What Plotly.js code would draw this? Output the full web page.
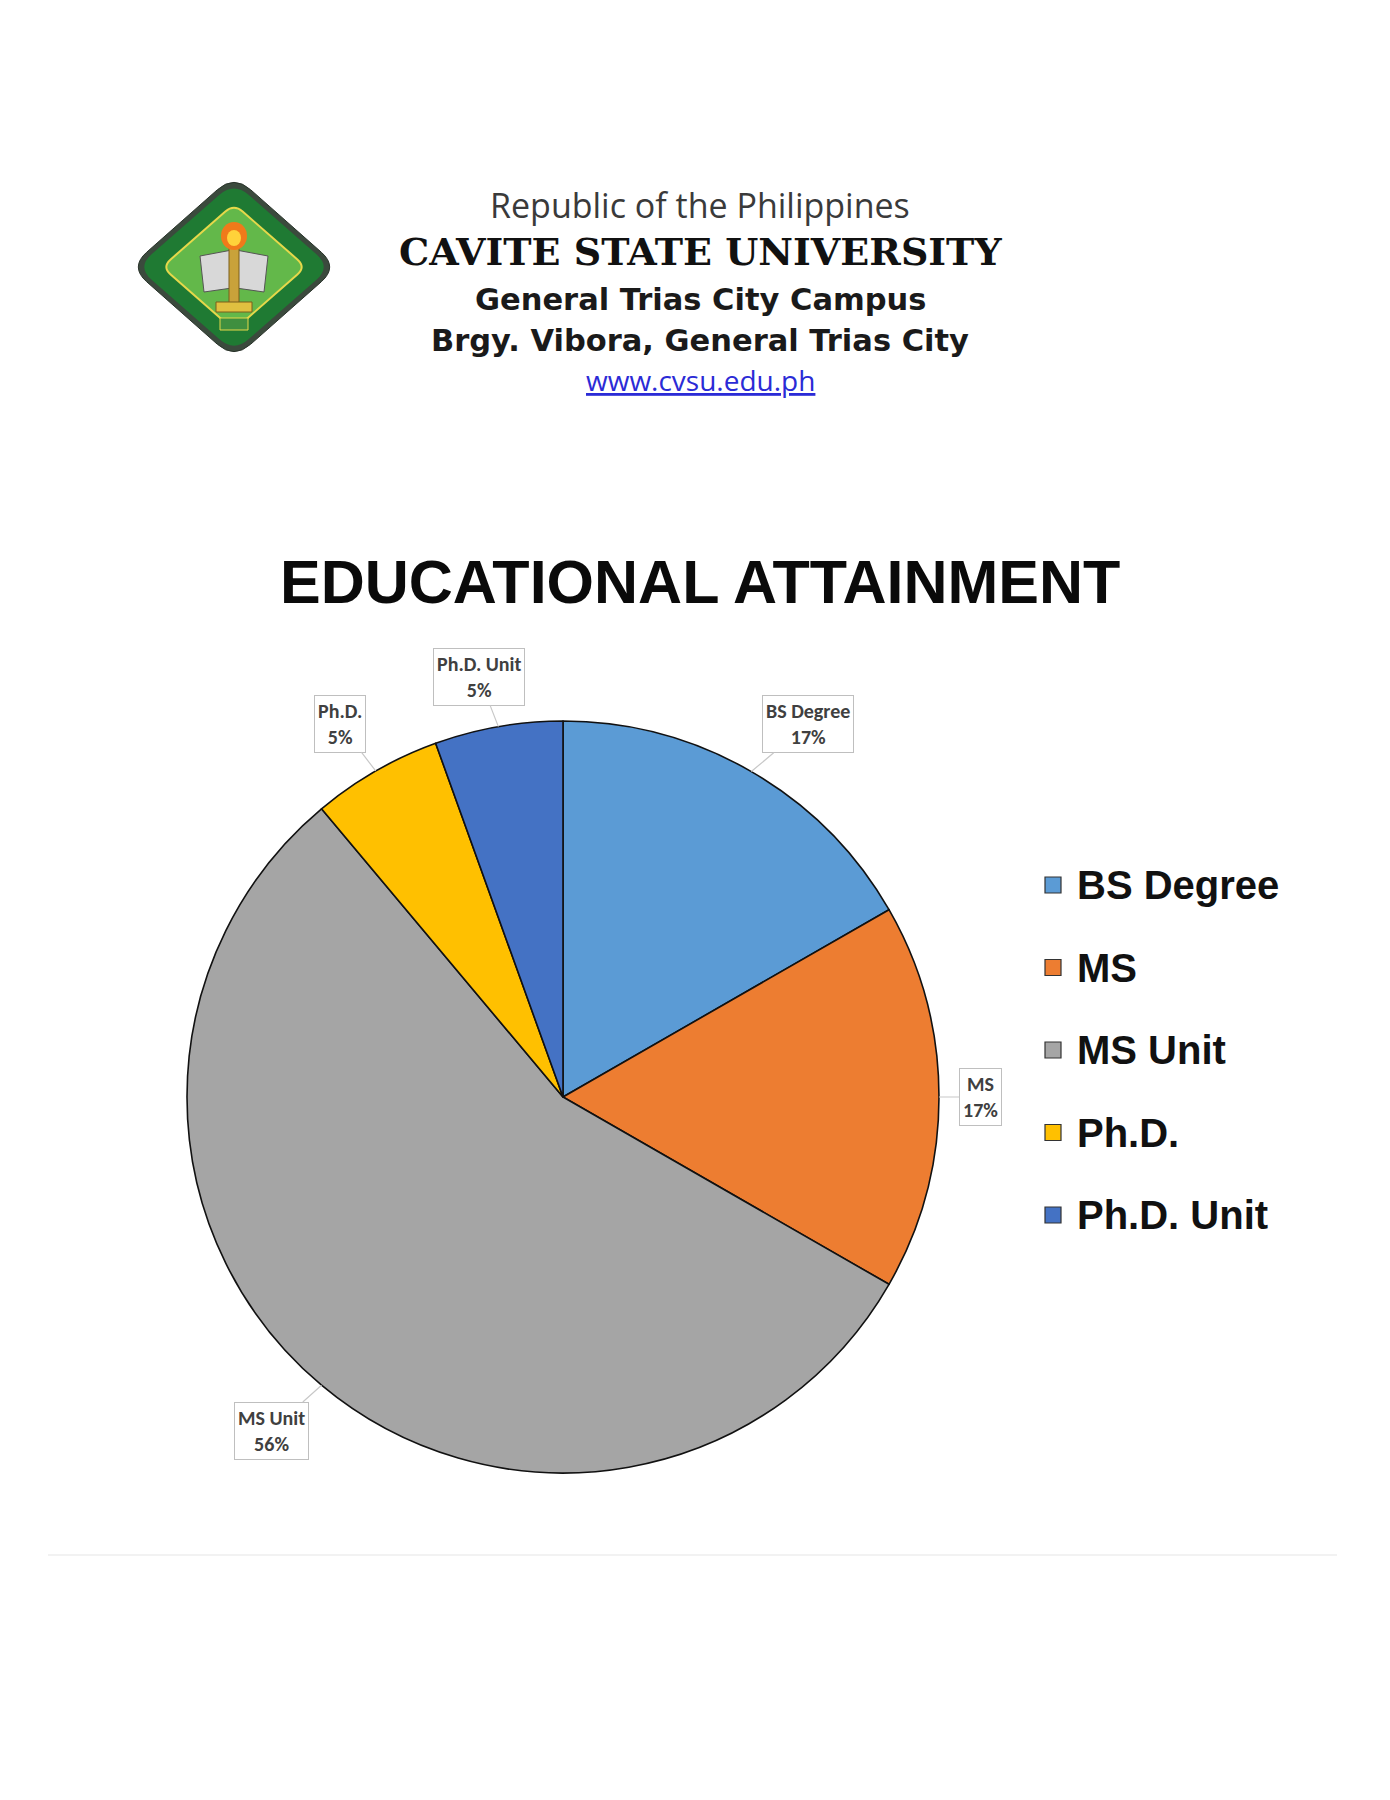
<!DOCTYPE html>
<html>
<head>
<meta charset="utf-8">
<script src="https://cdn.plot.ly/plotly-3.0.1.min.js"></script>
<style>
  html, body { margin: 0; padding: 0; background: #fff; }
  #graph { width: 1390px; height: 1800px; }
</style>
</head>
<body>
<div id="graph"></div>
<script>
/* ---------------- data ---------------- */
var categories = ['BS Degree', 'MS', 'MS Unit', 'Ph.D.', 'Ph.D. Unit'];
var shares = [16.7, 16.6, 55.6, 5.6, 5.5];           // slice sizes, % of the circle
var pctLabels = ['17%', '17%', '56%', '5%', '5%'];   // text printed in the call-out boxes
var sliceColors = ['#5B9BD5', '#ED7D31', '#A5A5A5', '#FFC000', '#4472C4'];

var headerLines = [
    'Republic of the Philippines',
    'CAVITE STATE UNIVERSITY',
    'General Trias City Campus',
    'Brgy. Vibora, General Trias City',
    'www.cvsu.edu.ph'
];
var chartTitle = 'EDUCATIONAL ATTAINMENT';

/* ---------------- page geometry ---------------- */
var W = 1390, H = 1800;
var pieCx = 563, pieCy = 1097, pieR = 376; // pixels

// pixel -> paper helpers
function X(px) { return px / W; }
function Y(py) { return 1 - py / H; }

/* ---------------- pie trace ---------------- */
var pie = {
    type: 'pie',
    labels: categories,
    values: shares,
    sort: false,
    direction: 'clockwise',
    rotation: 0,
    textinfo: 'none',
    hoverinfo: 'label+percent',
    marker: {
        colors: sliceColors,
        line: { color: '#111111', width: 1.6 }
    },
    domain: {
        x: [X(pieCx - pieR), X(pieCx + pieR)],
        y: [Y(pieCy + pieR), Y(pieCy - pieR)]
    },
    showlegend: false
};

/* ---------------- call-out labels ---------------- */
// Boxes sit just off the rim, pushed out by their own half size (like Excel's "best fit").
var calloutFont = { family: 'Carlito, "Liberation Sans Narrow", Roboto, sans-serif', size: 20, color: '#404040' };
var calloutPad = 3;
var leaderGap = 20;

var measureCtx = document.createElement('canvas').getContext('2d');
measureCtx.font = 'bold ' + calloutFont.size + 'px ' + calloutFont.family;
function textWidth(s) { return measureCtx.measureText(s).width; }
function clamp(v) { return Math.max(-1, Math.min(1, v)); }

var annotations = [];
var total = shares.reduce(function(a, b) { return a + b; }, 0);
var cum = 0;
for (var i = 0; i < shares.length; i++) {
    var mid = (cum + shares[i] / 2) / total * 2 * Math.PI;
    cum += shares[i];
    var sx = Math.sin(mid), sy = -Math.cos(mid);
    var hw = Math.max(textWidth(categories[i]), textWidth(pctLabels[i])) / 2 + calloutPad + 1;
    var hh = calloutFont.size * 1.3 + calloutPad + 1;
    annotations.push({
        xref: 'paper', yref: 'paper',
        x: X(pieCx + pieR * sx),
        y: Y(pieCy + pieR * sy),
        ax: leaderGap * sx + clamp(2 * sx) * hw,
        ay: leaderGap * sy + clamp(2 * sy) * hh,
        text: '<b>' + categories[i] + '<br>' + pctLabels[i] + '</b>',
        font: calloutFont,
        align: 'center',
        bgcolor: '#ffffff',
        bordercolor: '#bfbfbf',
        borderwidth: 1,
        borderpad: calloutPad,
        showarrow: true,
        arrowhead: 0,
        arrowwidth: 1.2,
        arrowcolor: '#c8c8c8',
        standoff: 0
    });
}

/* ---------------- legend (drawn by hand for the wide spacing) ---------------- */
var shapes = [];
var legendX = 1045, legendTop = 885, legendStep = 82.5, boxSize = 16;
for (var j = 0; j < categories.length; j++) {
    var ly = legendTop + j * legendStep;
    shapes.push({
        type: 'rect', xref: 'paper', yref: 'paper',
        x0: X(legendX), x1: X(legendX + boxSize),
        y0: Y(ly + boxSize / 2), y1: Y(ly - boxSize / 2),
        fillcolor: sliceColors[j],
        line: { color: '#333333', width: 1.2 }
    });
    annotations.push({
        xref: 'paper', yref: 'paper',
        x: X(legendX + boxSize + 14), y: Y(ly),
        xanchor: 'left', yanchor: 'middle',
        text: '<b>' + categories[j] + '</b>',
        font: { family: 'Liberation Sans, Arial, sans-serif', size: 40, color: '#111111' },
        showarrow: false
    });
}

/* ---------------- header text ---------------- */
var headerStyle = [
    { y: 205, size: 34, family: '"Open Sans", sans-serif', color: '#3a3a3a', bold: false },
    { y: 251, size: 38, family: 'DejaVu Serif, serif', color: '#111111', bold: true },
    { y: 299, size: 30.5, family: 'DejaVu Sans, sans-serif', color: '#1a1a1a', bold: true },
    { y: 341, size: 30.5, family: 'DejaVu Sans, sans-serif', color: '#1a1a1a', bold: true },
    { y: 380, size: 28, family: '"Open Sans", sans-serif', color: '#2b2bd6', bold: false }
];
headerLines.forEach(function(line, k) {
    var s = headerStyle[k];
    var txt = s.bold ? '<b>' + line + '</b>' : line;
    if (k === headerLines.length - 1) txt = '<u>' + line + '</u>';
    annotations.push({
        xref: 'paper', yref: 'paper',
        x: X(700), y: Y(s.y),
        xanchor: 'center', yanchor: 'middle',
        text: txt,
        font: { family: s.family, size: s.size, color: s.color },
        showarrow: false
    });
});

annotations.push({
    xref: 'paper', yref: 'paper',
    x: X(700), y: Y(582),
    xanchor: 'center', yanchor: 'middle',
    text: '<b>' + chartTitle + '</b>',
    font: { family: 'Liberation Sans, Arial, sans-serif', size: 61, color: '#0a0a0a' },
    showarrow: false
});

/* ---------------- logo (rough sketch of the seal) ---------------- */
function roundedDiamond(cx, cy, hw, hh, k) {
    var pts = [[cx, cy - hh], [cx + hw, cy], [cx, cy + hh], [cx - hw, cy]];
    var d = '';
    for (var n = 0; n < 4; n++) {
        var p = pts[n], prev = pts[(n + 3) % 4], next = pts[(n + 1) % 4];
        var a = [p[0] + (prev[0] - p[0]) * k, p[1] + (prev[1] - p[1]) * k];
        var b = [p[0] + (next[0] - p[0]) * k, p[1] + (next[1] - p[1]) * k];
        d += (n === 0 ? 'M' : 'L') + X(a[0]) + ',' + Y(a[1]) +
             ' Q' + X(p[0]) + ',' + Y(p[1]) + ' ' + X(b[0]) + ',' + Y(b[1]) + ' ';
    }
    return d + 'Z';
}
function pathShape(d, fill, lineColor, lineWidth) {
    return {
        type: 'path', xref: 'paper', yref: 'paper', path: d,
        fillcolor: fill,
        line: { color: lineColor || fill, width: lineWidth || 0 }
    };
}
var lx = 234, lyc = 267;
shapes.push(pathShape(roundedDiamond(lx, lyc, 104, 92, 0.16), '#3b4a3d', '#2a332b', 1));
shapes.push(pathShape(roundedDiamond(lx, lyc, 97, 85, 0.15), '#1f7a33'));
shapes.push(pathShape(roundedDiamond(lx, lyc, 72, 63, 0.12), '#63b84a', '#e6d84a', 2));
// books
shapes.push(pathShape('M' + X(200) + ',' + Y(256) + ' L' + X(232) + ',' + Y(250) + ' L' + X(232) + ',' + Y(288) +
    ' L' + X(204) + ',' + Y(292) + ' Z', '#d8d8d8', '#555555', 1));
shapes.push(pathShape('M' + X(268) + ',' + Y(256) + ' L' + X(236) + ',' + Y(250) + ' L' + X(236) + ',' + Y(288) +
    ' L' + X(264) + ',' + Y(292) + ' Z', '#d8d8d8', '#555555', 1));
// torch
shapes.push({ type: 'rect', xref: 'paper', yref: 'paper', x0: X(229), x1: X(239), y0: Y(305), y1: Y(240),
    fillcolor: '#c9a23a', line: { color: '#7a5e1a', width: 1 } });
shapes.push({ type: 'rect', xref: 'paper', yref: 'paper', x0: X(216), x1: X(252), y0: Y(312), y1: Y(302),
    fillcolor: '#e0c040', line: { color: '#7a5e1a', width: 1 } });
shapes.push({ type: 'circle', xref: 'paper', yref: 'paper', x0: X(221), x1: X(247), y0: Y(250), y1: Y(222),
    fillcolor: '#f07a1a', line: { width: 0 } });
shapes.push({ type: 'circle', xref: 'paper', yref: 'paper', x0: X(227), x1: X(241), y0: Y(246), y1: Y(230),
    fillcolor: '#ffd23a', line: { width: 0 } });
shapes.push({ type: 'rect', xref: 'paper', yref: 'paper', x0: X(220), x1: X(248), y0: Y(330), y1: Y(318),
    fillcolor: '#3f8f3f', line: { color: '#e6d84a', width: 1 } });

/* ---------------- separator line ---------------- */
shapes.push({
    type: 'line', xref: 'paper', yref: 'paper',
    x0: X(48), x1: X(1337), y0: Y(1555), y1: Y(1555),
    line: { color: '#eeeeee', width: 1.5 }
});

var layout = {
    width: W,
    height: H,
    margin: { l: 0, r: 0, t: 0, b: 0 },
    paper_bgcolor: '#ffffff',
    plot_bgcolor: '#ffffff',
    showlegend: false,
    annotations: annotations,
    shapes: shapes
};

var graph = document.getElementById('graph');
Plotly.newPlot(graph, [pie], layout, { staticPlot: true });
</script>
</body>
</html>
